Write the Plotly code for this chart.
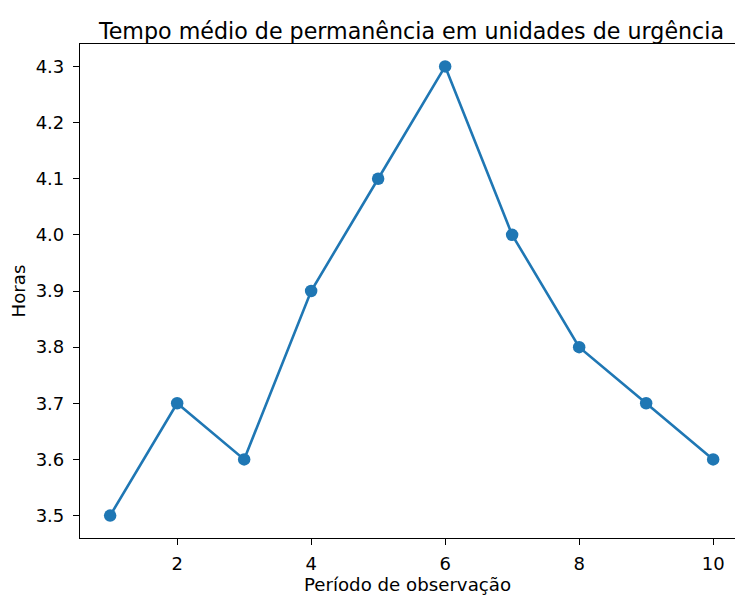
import plotly.graph_objects as go

# Average length of stay per observation period
periodos = [1, 2, 3, 4, 5, 6, 7, 8, 9, 10]
horas = [3.5, 3.7, 3.6, 3.9, 4.1, 4.3, 4.0, 3.8, 3.7, 3.6]

x_ticks = [2, 4, 6, 8, 10]
y_ticks = [3.5, 3.6, 3.7, 3.8, 3.9, 4.0, 4.1, 4.2, 4.3]

azul = "#1f77b4"
fonte = "DejaVu Sans"

fig = go.Figure(
    go.Scatter(
        x=periodos,
        y=horas,
        mode="lines+markers",
        line=dict(color=azul, width=2.6),
        marker=dict(color=azul, size=12.5),
        showlegend=False,
    )
)

W, H = 735, 595
ml, mt, mb = 80, 43.5, 56.5
px_per_unit = 67.0
x0 = 0.55
x1 = x0 + (W - ml) / px_per_unit

fig.update_layout(
    width=W,
    height=H,
    margin=dict(l=ml, r=0, t=mt, b=mb, pad=0),
    paper_bgcolor="white",
    plot_bgcolor="white",
    font=dict(family=fonte, size=18, color="black"),
    title=dict(
        text="Tempo médio de permanência em unidades de urgência",
        x=(ml + 743) / 2 / W,
        xanchor="center",
        xref="container",
        y=1 - 39 / H,
        yref="container",
        yanchor="bottom",
        font=dict(family=fonte, size=22.2, color="black"),
    ),
    xaxis=dict(
        range=[x0, x1],
        tickvals=x_ticks,
        ticktext=[str(v) for v in x_ticks],
        showgrid=False,
        zeroline=False,
        showline=True,
        mirror=True,
        linecolor="black",
        linewidth=1.2,
        ticks="outside",
        ticklen=6,
        tickwidth=1.2,
        tickcolor="black",
        ticklabelstandoff=3,
        title=dict(text="Período de observação", font=dict(size=18.2), standoff=5),
    ),
    yaxis=dict(
        range=[3.46, 4.34],
        tickvals=y_ticks,
        ticktext=[f"{v:.1f}" for v in y_ticks],
        showgrid=False,
        zeroline=False,
        showline=True,
        mirror=False,
        linecolor="black",
        linewidth=1.2,
        ticks="outside",
        ticklen=6,
        tickwidth=1.2,
        tickcolor="black",
        ticklabelstandoff=5,
        title=dict(text="Horas", font=dict(size=18.2), standoff=5),
    ),
)

fig.write_html("out.html")
